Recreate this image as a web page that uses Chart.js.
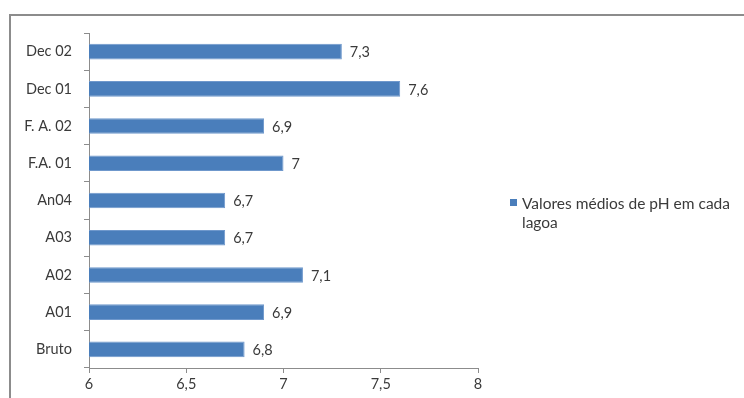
<!DOCTYPE html>
<html>
<head>
<meta charset="utf-8">
<script src="https://cdn.jsdelivr.net/npm/chart.js@4/dist/chart.umd.min.js"></script>
<style>
  html, body { margin: 0; padding: 0; background: #fff; }
  #wrap { position: relative; width: 744px; height: 398px; overflow: hidden; }
  #frame { position: absolute; left: 9px; top: 14px; width: 800px; height: 500px;
           border-left: 2px solid #8c8c8c; border-top: 2px solid #8c8c8c; }
  canvas { position: absolute; left: 0; top: 0; }
</style>
</head>
<body>
<div id="wrap">
  <div id="frame"></div>
  <canvas id="c" width="744" height="398"></canvas>
</div>
<script>
// pH medio por lagoa (de cima para baixo como no grafico)
const categories = ['Dec 02', 'Dec 01', 'F. A. 02', 'F.A. 01', 'An04', 'A03', 'A02', 'A01', 'Bruto'];
const phValues = [7.3, 7.6, 6.9, 7, 6.7, 6.7, 7.1, 6.9, 6.8];
const seriesLabel = 'Valores médios de pH em cada lagoa';
const legendLines = ['Valores médios de pH em cada', 'lagoa'];

const FONT = 'Lato, "Open Sans", sans-serif';
const TEXT = '#3a3a3a';
const AXIS = '#8c8c8c';
const BLUE = '#4a7ebb';

const comma = v => String(v).replace('.', ',');

// value labels to the right of each bar
const valueLabels = {
  id: 'valueLabels',
  afterDatasetsDraw(chart) {
    const ctx = chart.ctx;
    const meta = chart.getDatasetMeta(0);
    ctx.save();
    ctx.font = '14.5px ' + FONT;
    ctx.fillStyle = TEXT;
    ctx.textAlign = 'left';
    ctx.textBaseline = 'middle';
    meta.data.forEach((bar, i) => {
      ctx.fillText(comma(phValues[i]), bar.x + 8, bar.y + 1);
    });
    ctx.restore();
  }
};

// legend on the right, wrapped like the original
const sideLegend = {
  id: 'sideLegend',
  afterDraw(chart) {
    const ctx = chart.ctx;
    ctx.save();
    ctx.fillStyle = BLUE;
    ctx.fillRect(510, 199, 7, 7);
    ctx.font = '15.5px ' + FONT;
    ctx.fillStyle = TEXT;
    ctx.textBaseline = 'middle';
    legendLines.forEach((t, i) => ctx.fillText(t, 522, 204 + i * 19));
    ctx.restore();
  }
};

new Chart(document.getElementById('c'), {
  type: 'bar',
  data: {
    labels: categories,
    datasets: [{
      label: seriesLabel,
      data: phValues,
      backgroundColor: BLUE,
      borderColor: '#6f98cc',
      borderWidth: 1,
      barPercentage: 0.42,
      categoryPercentage: 1
    }]
  },
  options: {
    indexAxis: 'y',
    responsive: false,
    animation: false,
    layout: { padding: { left: 0, right: 266, top: 33, bottom: 0 } },
    plugins: { legend: { display: false }, tooltip: { enabled: false } },
    scales: {
      x: {
        min: 6, max: 8,
        afterFit: s => { s.height = 30; },
        ticks: { stepSize: 0.5, color: TEXT, font: { family: FONT, size: 14.5 }, padding: 3,
                 callback: v => comma(v) },
        grid: { display: true, drawOnChartArea: false, drawTicks: true, tickLength: 5, color: AXIS },
        border: { display: true, color: AXIS }
      },
      y: {
        afterFit: s => { s.width = 89; },
        ticks: { color: TEXT, font: { family: FONT, size: 14.5 }, padding: 12 },
        grid: { display: true, offset: true, drawOnChartArea: false, tickLength: 5, color: AXIS },
        border: { display: true, color: AXIS }
      }
    }
  },
  plugins: [valueLabels, sideLegend]
});
</script>
</body>
</html>
